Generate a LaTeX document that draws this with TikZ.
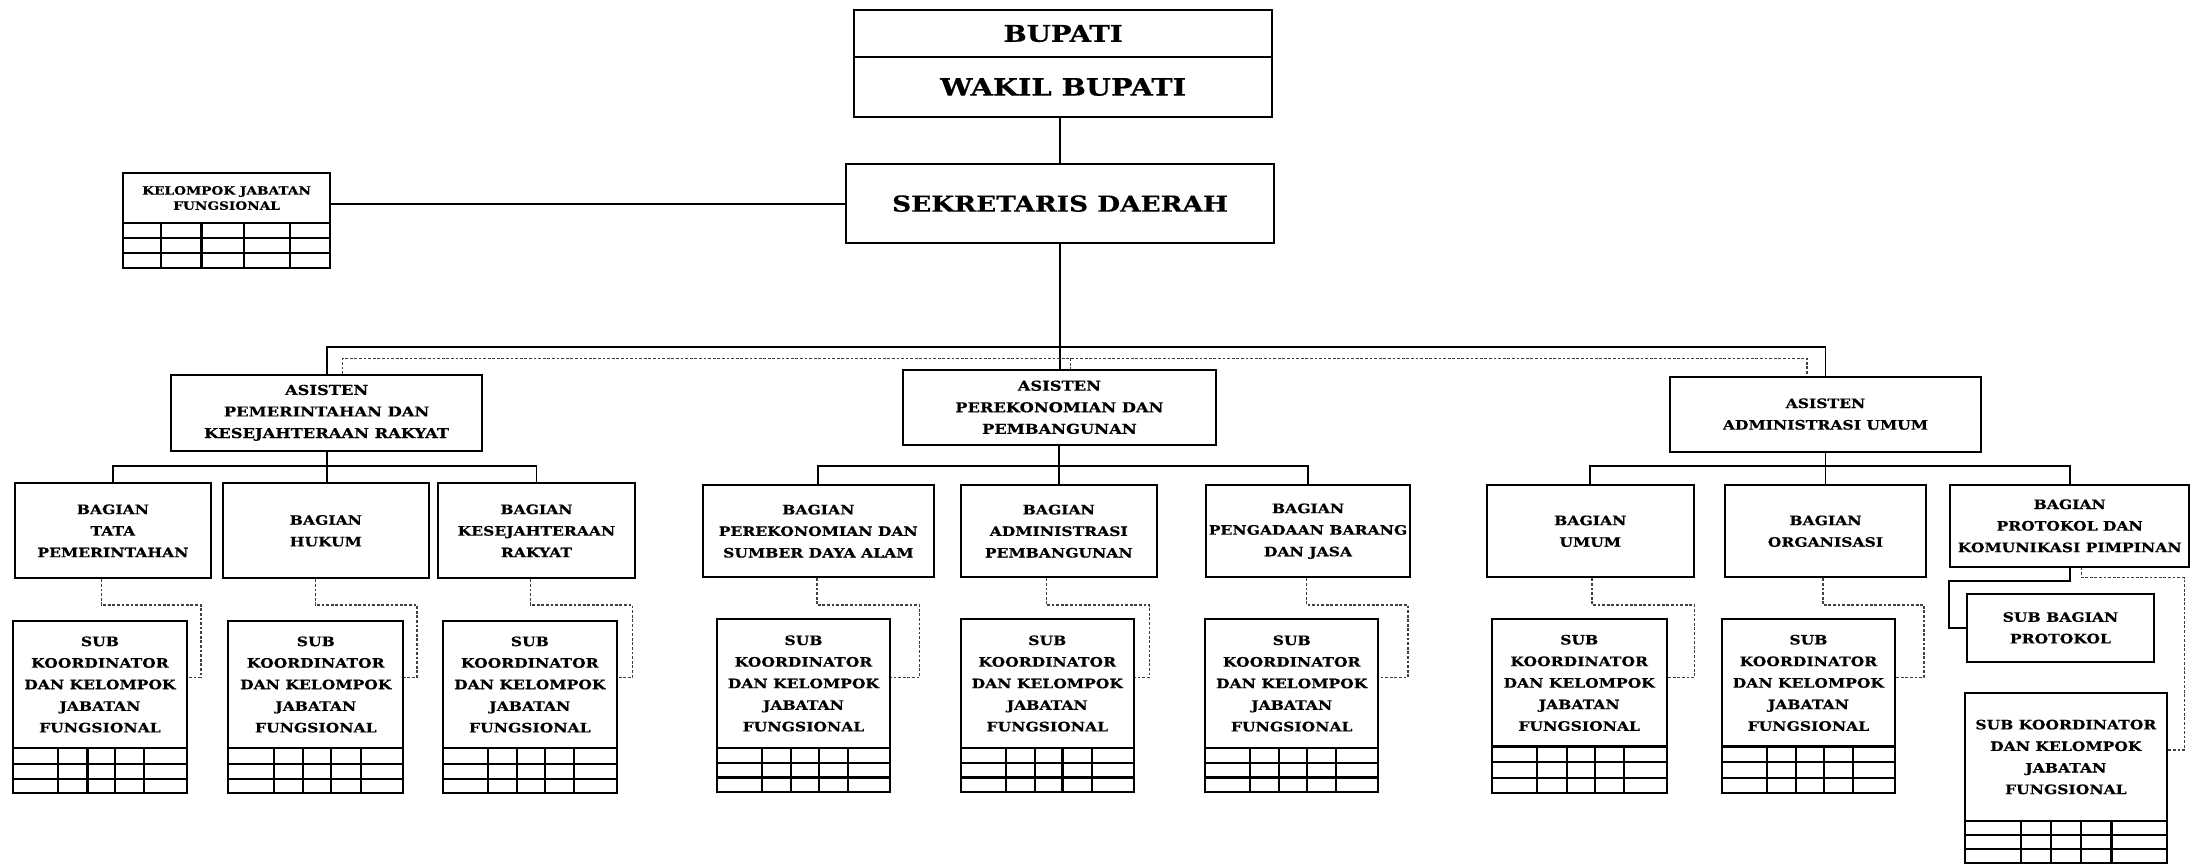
\documentclass[tikz,border=0pt]{standalone}
\usepackage{fontspec}
\setmainfont{DejaVu Serif}[FakeStretch=1.2, BoldFeatures={FakeBold=0.5}]
\usetikzlibrary{fit,calc}
\tikzset{
 obox/.style={draw, line width=1pt, inner sep=0pt, rectangle},
 otext/.style={font=\bfseries\fontsize{6.5}{10.8}\selectfont, align=center, inner sep=0pt},
 astext/.style={font=\bfseries\fontsize{6.8}{10.8}\selectfont, align=center, inner sep=0pt},
 kjftext/.style={font=\bfseries\fontsize{5.7}{7.6}\selectfont, align=center, inner sep=0pt},
 bigtext/.style={font=\bfseries\fontsize{11.5}{13}\selectfont, inner sep=0pt},
 conn/.style={line width=0.9pt},
 dconn/.style={line width=0.6pt, black!75, dash pattern=on 1.4pt off 0.9pt},
 gridline/.style={line width=1.1pt},
}
\newcommand{\obx}[7][otext]{%
  \node[obox, fit={(#3,#4) (#5,#6)}] (#2) {};
  \node[#1] (#2-t) at (#2.center) {#7};}
\newcommand{\gbx}[9]{%
  \node[obox, fit={(#2,#3) (#4,#6)}] (#1) {};
  \node[#8] (#1-t) at ({(#2+#4)/2},{(#3+#5)/2}) {#9};
  \draw[gridline] (#2,#5) -- (#4,#5);
  \foreach \f in {#7} {\draw[gridline] ({#2+\f*(#4-#2)},#5) -- ({#2+\f*(#4-#2)},#6);}
  \foreach \f in {0.34,0.68} {\draw[gridline] (#2,{#5+\f*(#6-#5)}) -- (#4,{#5+\f*(#6-#5)});}}
\newcommand{\dlink}[4]{\draw[dconn] ($(#1.south)+(#3,0)$) coordinate (#1-ds) -- (#1-ds |- hy) -| ($(#2.east |- vy)+(#4,0)$) -- (#2.east |- vy);}
\newcommand{\subtxt}{SUB\\KOORDINATOR\\DAN KELOMPOK\\JABATAN\\FUNGSIONAL}
\begin{document}
\begin{tikzpicture}[x=0.7pt,y=-0.7pt]
\useasboundingbox (0,0) rectangle (1568,618);
% top
\obx[bigtext]{bup}{611}{7}{910}{41}{BUPATI}
\obx[bigtext, font=\bfseries\fontsize{12}{13}\selectfont]{wak}{611}{41}{910}{83.5}{WAKIL BUPATI}
\obx[bigtext, font=\bfseries\fontsize{11}{13}\selectfont]{sek}{605}{117.3}{911.6}{174}{SEKRETARIS DAERAH}
\gbx{kjf}{88.2}{124}{236}{159.3}{191.6}{0.182,0.378,0.585,0.808}{kjftext}{KELOMPOK JABATAN\\FUNGSIONAL}
% asisten
\obx[astext]{as1}{122.3}{268.2}{345}{322.4}{ASISTEN\\PEMERINTAHAN DAN\\KESEJAHTERAAN RAKYAT}
\obx[astext]{as2}{646}{264.7}{869.6}{318}{ASISTEN\\PEREKONOMIAN DAN\\PEMBANGUNAN}
\obx[otext]{as3}{1194.6}{269.4}{1417}{323}{ASISTEN\\ADMINISTRASI UMUM}
% bagian
\obx{b11}{10.5}{345.7}{151}{413.7}{BAGIAN\\TATA\\PEMERINTAHAN}
\obx{b12}{159.6}{345.7}{306.6}{413.7}{BAGIAN\\HUKUM}
\obx{b13}{313.5}{345.7}{454}{413.7}{BAGIAN\\KESEJAHTERAAN\\RAKYAT}
\obx{b21}{502.9}{347}{667.8}{413}{BAGIAN\\PEREKONOMIAN DAN\\SUMBER DAYA ALAM}
\obx{b22}{687.1}{347}{827.6}{413}{BAGIAN\\ADMINISTRASI\\PEMBANGUNAN}
\obx{b23}{863}{347}{1008.3}{413}{BAGIAN\\PENGADAAN BARANG\\DAN JASA}
\obx{b31}{1063.6}{347}{1211.5}{413}{BAGIAN\\UMUM}
\obx{b32}{1234.2}{347}{1377.4}{413}{BAGIAN\\ORGANISASI}
\obx{b33}{1395}{347}{1566}{405.3}{BAGIAN\\PROTOKOL DAN\\KOMUNIKASI PIMPINAN}
% sub koordinator
\gbx{s11}{9.5}{444}{133.5}{535.3}{567.5}{0.26,0.428,0.588,0.756}{otext}{\subtxt}
\gbx{s12}{163.3}{444}{288.5}{535.3}{567.5}{0.26,0.428,0.588,0.756}{otext}{\subtxt}
\gbx{s13}{317}{444}{441}{535.3}{567.5}{0.26,0.428,0.588,0.756}{otext}{\subtxt}
\gbx{s21}{512.7}{443}{636.8}{534.8}{566.3}{0.26,0.428,0.588,0.756}{otext}{\subtxt}
\gbx{s22}{687.1}{443}{811.2}{534.8}{566.3}{0.26,0.428,0.588,0.756}{otext}{\subtxt}
\gbx{s23}{862.3}{443}{985.7}{534.8}{566.3}{0.26,0.428,0.588,0.756}{otext}{\subtxt}
\gbx{s31}{1067}{443}{1192.3}{534}{567}{0.26,0.428,0.588,0.756}{otext}{\subtxt}
\gbx{s32}{1231.8}{443}{1355.4}{534}{567}{0.26,0.428,0.588,0.756}{otext}{\subtxt}
\obx{sbp}{1406.9}{424.9}{1540.9}{473.3}{SUB BAGIAN\\PROTOKOL}
\gbx{s33}{1405.5}{496}{1550}{587}{617}{0.279,0.426,0.574,0.726}{otext}{SUB KOORDINATOR\\DAN KELOMPOK\\JABATAN\\FUNGSIONAL}
% connectors top
\draw[conn] (sek.north |- wak.south) -- (sek.north);
\draw[conn] (kjf.east |- sek.west) -- (sek.west);
\draw[conn] (sek.south) -- (sek.south |- as2.north);
\coordinate (bus) at (0,248);
\coordinate (dbus) at (0,256.3);
\draw[conn] (as1.north) -- (as1.north |- bus) -- (as3.north |- bus) -- (as3.north);
\coordinate (d1) at ($(as1.north)+(11.4,0)$);
\coordinate (d2) at ($(as2.north)+(7.7,0)$);
\coordinate (d3) at ($(as3.north)+(-13.2,0)$);
\draw[dconn] (d1) -- (d1 |- dbus) -- (d3 |- dbus) -- (d3);
\draw[dconn] (d2 |- dbus) -- (d2);
% group buses
\coordinate (sbus) at (0,333.5);
\draw[conn] (b11.north) -- (b11.north |- sbus) -- (b13.north |- sbus) -- (b13.north);
\draw[conn] (as1.south) -- (as1.south |- b12.north);
\draw[conn] (b21.north) -- (b21.north |- sbus) -- (b23.north |- sbus) -- (b23.north);
\draw[conn] (as2.south) -- (as2.south |- b22.north);
\draw[conn] (b31.north) -- (b31.north |- sbus) -- (b33.north |- sbus) -- (b33.north);
\draw[conn] (as3.south) -- (as3.south |- b32.north);
% dashed bagian -> sub
\coordinate (hy) at (0,432.8);
\coordinate (vy) at (0,484.5);
\dlink{b11}{s11}{-8.3}{9.5}
\dlink{b12}{s12}{-7.6}{9.1}
\dlink{b13}{s13}{-4.4}{10.8}
\dlink{b21}{s21}{-1}{20.4}
\dlink{b22}{s22}{-9}{10.3}
\dlink{b23}{s23}{-1}{20.8}
\dlink{b31}{s31}{1.3}{19.2}
\dlink{b32}{s32}{-1.8}{20.2}
% protokol
\draw[conn] (b33.south) -- ++(0,9.6) -| ($(sbp.west)+(-12,0)$) -- (sbp.west);
\coordinate (py) at (0,536.5);
\draw[dconn] ($(b33.south)+(8.5,0)$) -- ++(0,7.2) -| ($(s33.east |- py)+(11.9,0)$) -- (s33.east |- py);
\end{tikzpicture}
\end{document}
